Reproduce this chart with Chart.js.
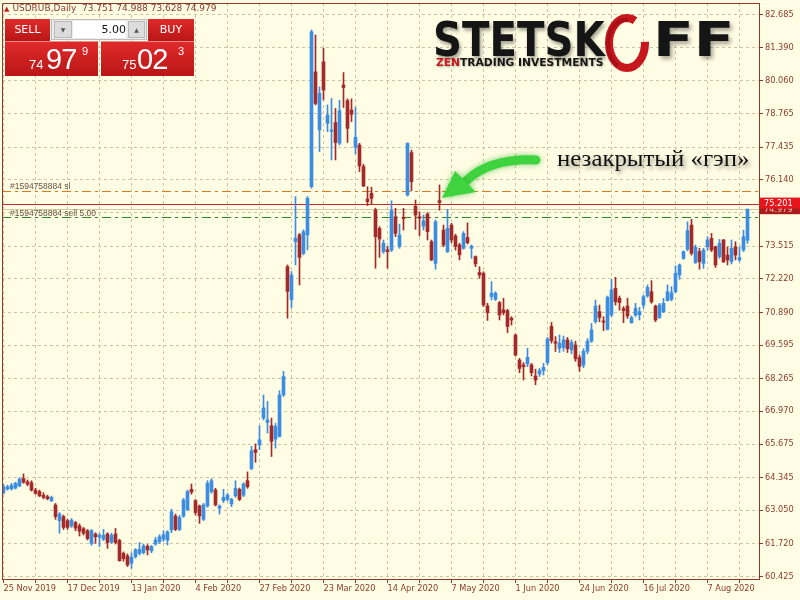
<!DOCTYPE html>
<html>
<head>
<meta charset="utf-8">
<script src="https://cdn.jsdelivr.net/npm/chart.js@4.4.0/dist/chart.umd.min.js"></script>
<style>
  html, body { margin: 0; padding: 0; background: #fffde3; }
  #wrap { position: relative; width: 800px; height: 600px; overflow: hidden; background: #fffde3; font-family: "DejaVu Sans", sans-serif; }
  #chart { position: absolute; left: 0; top: 0; }
  .abs { position: absolute; white-space: nowrap; }
  #hdr { left: 4px; top: 3px; font-size: 9px; color: #8c3a2c; }
  #hdr .tri { color: #c02020; font-size: 7px; margin-right: 3px; }
  .redbox { background: linear-gradient(#e02a2a, #b91616); color: #fff; }
  .btn { font-family: "DejaVu Sans", sans-serif; font-size: 11px; text-align: center; line-height: 21px; }
  .big { font-family: "Liberation Sans", sans-serif; font-size: 29px; color: #fff; letter-spacing: -1px; }
  .small { font-family: "Liberation Sans", sans-serif; font-size: 13px; color: #fff; }
  .sup { font-family: "Liberation Sans", sans-serif; font-size: 11px; color: #fff; }
  #logo1, #logo2 { font-family: "DejaVu Sans", sans-serif; font-weight: bold; font-size: 48px; color: #151515; line-height: 48px; transform-origin: 0 0; text-shadow: 2px 3px 4px rgba(0,0,0,0.35); }
  #zen { font-family: "DejaVu Sans", sans-serif; font-weight: bold; font-size: 10.5px; color: #151515; transform-origin: 0 0; text-shadow: 1px 1px 2px rgba(0,0,0,0.3); }
  #zen b { color: #c8161d; }
  #note { font-family: "Liberation Serif", serif; font-size: 23px; color: #111; transform-origin: 0 0; text-shadow: 2px 3px 4px rgba(0,0,0,0.4); }
</style>
</head>
<body>
<div id="wrap">
  <canvas id="chart" width="800" height="600"></canvas>

  <div id="hdr" class="abs"><span class="tri">▲</span>USDRUB,Daily&nbsp;&nbsp;73.751 74.988 73.628 74.979</div>

  <div class="abs redbox btn" style="left:5px;top:19px;width:45px;height:22px;">SELL</div>
  <div class="abs" style="left:51px;top:19px;width:96px;height:21px;background:#ececec;border:1px solid #bdbdbd;box-sizing:border-box;"></div>
  <div class="abs" style="left:54px;top:21px;width:18px;height:17px;background:#dcdcdc;border:1px solid #b8b8b8;box-sizing:border-box;font-size:6px;color:#555;text-align:center;line-height:15px;">▼</div>
  <div class="abs" style="left:73px;top:21px;width:53px;height:17px;background:#fff;font-size:11px;text-align:right;line-height:17px;color:#111;">5.00</div>
  <div class="abs" style="left:128px;top:21px;width:17px;height:17px;background:#dcdcdc;border:1px solid #b8b8b8;box-sizing:border-box;font-size:6px;color:#555;text-align:center;line-height:15px;">▲</div>
  <div class="abs redbox btn" style="left:148px;top:19px;width:46px;height:22px;">BUY</div>

  <div class="abs redbox" style="left:5px;top:41px;width:93px;height:35px;border-top:1px solid #e98a8a;box-sizing:border-box;"></div>
  <div class="abs small" style="left:29px;top:57px;">74</div>
  <div class="abs big" style="left:46px;top:43px;">97</div>
  <div class="abs sup" style="left:82px;top:45px;">9</div>

  <div class="abs redbox" style="left:101px;top:41px;width:93px;height:35px;border-top:1px solid #e98a8a;box-sizing:border-box;"></div>
  <div class="abs small" style="left:122px;top:57px;">75</div>
  <div class="abs big" style="left:137px;top:43px;">02</div>
  <div class="abs sup" style="left:178px;top:45px;">3</div>

  <div id="logo1" class="abs" style="left:433px;top:15px;">STETSK</div>
  <svg class="abs" style="left:598px;top:6px;" width="60" height="70">
    <ellipse cx="29" cy="37" rx="18" ry="25" fill="none" stroke="#c8161d" stroke-width="8"
             stroke-dasharray="122 24" stroke-dashoffset="12"/>
    <ellipse cx="27" cy="38" rx="17" ry="24" fill="none" stroke="#a80f16" stroke-width="4"
             stroke-dasharray="0 40 60 46"/>
  </svg>
  <div id="logo2" class="abs" style="left:653px;top:15px;">FF</div>
  <div id="zen" class="abs" style="left:436px;top:56px;"><b>ZEN</b>TRADING INVESTMENTS</div>

  <div id="note" class="abs" style="left:557px;top:146px;">незакрытый «гэп»</div>
</div>

<script>
const dateLabels = ['25 Nov 2019', '17 Dec 2019', '13 Jan 2020', '4 Feb 2020', '27 Feb 2020', '23 Mar 2020',
  '14 Apr 2020', '7 May 2020', '1 Jun 2020', '24 Jun 2020', '16 Jul 2020', '7 Aug 2020'];

const priceTicks = [60.425, 61.720, 63.050, 64.345, 65.675, 66.970, 68.265, 69.595, 70.890,
  72.220, 73.515, 74.845, 76.140, 77.435, 78.765, 80.060, 81.390, 82.685];

// daily candles, 25 Nov 2019 .. 20 Aug 2020
const opens = [
  63.75, 63.89, 63.90, 63.93, 64.02, 64.31, 64.18, 64.14, 63.85, 63.79,
  63.65, 63.59, 63.43, 63.26, 62.64, 62.80, 62.64, 62.43, 62.56, 62.43,
  62.32, 62.24, 61.74, 62.11, 61.98, 61.90, 62.11, 61.79, 62.11, 61.85,
  61.34, 61.24, 60.95, 61.21, 61.34, 61.37, 61.63, 61.44, 61.71, 61.81,
  61.90, 61.87, 62.27, 62.82, 62.29, 62.82, 63.08, 63.88, 63.43, 63.22,
  62.69, 63.22, 63.79, 63.85, 63.13, 63.43, 63.48, 63.30, 63.62, 63.88,
  63.65, 64.22, 64.70, 65.45, 65.64, 66.70, 66.53, 66.40, 65.87, 65.97,
  67.62, 72.70, 71.39, 73.69, 73.96, 73.23, 73.96, 75.87, 80.42, 78.12,
  80.82, 78.38, 78.06, 78.41, 77.59, 79.90, 79.28, 78.91, 77.43, 77.52,
  76.67, 75.38, 75.61, 74.95, 74.22, 73.30, 73.37, 73.36, 74.68, 73.50,
  74.66, 75.54, 77.22, 75.10, 74.68, 74.31, 74.79, 73.69, 72.83, 75.32,
  74.15, 73.30, 74.35, 73.92, 73.56, 73.43, 73.86, 73.43, 73.10, 72.47,
  72.44, 71.15, 71.52, 71.41, 71.28, 70.99, 70.96, 70.66, 69.99, 69.00,
  68.81, 68.85, 68.81, 68.37, 68.45, 68.58, 68.90, 70.33, 69.73, 69.47,
  69.50, 69.80, 69.40, 69.60, 69.10, 68.80, 69.35, 69.75, 70.52, 70.92,
  70.55, 70.22, 70.79, 71.84, 71.45, 71.04, 71.14, 70.48, 70.79, 70.79,
  71.18, 71.54, 71.71, 71.14, 70.69, 70.92, 71.35, 71.41, 71.71, 72.37,
  73.03, 73.39, 74.35, 72.86, 73.30, 72.83, 73.49, 73.82, 73.49, 73.10,
  73.76, 73.16, 72.90, 73.49, 72.97, 73.36, 73.751
];
const highs = [
  64.08, 64.05, 64.12, 64.16, 64.34, 64.49, 64.25, 64.22, 63.92, 63.85,
  63.75, 63.65, 63.61, 63.32, 62.96, 62.86, 62.70, 62.72, 62.61, 62.51,
  62.37, 62.29, 62.29, 62.16, 62.14, 62.29, 62.16, 62.14, 62.33, 61.90,
  61.40, 61.32, 61.37, 61.53, 61.77, 61.71, 61.69, 61.66, 61.98, 62.08,
  62.24, 62.24, 63.09, 62.90, 62.85, 63.52, 63.85, 64.09, 63.48, 63.26,
  63.32, 64.22, 64.30, 63.92, 63.26, 63.88, 63.72, 63.53, 64.22, 63.93,
  64.14, 64.57, 65.58, 65.68, 66.40, 67.62, 67.36, 66.70, 66.50, 67.79,
  68.55, 72.77, 72.51, 75.48, 74.02, 74.16, 75.48, 82.08, 81.88, 79.83,
  81.35, 79.11, 79.37, 78.97, 79.30, 80.39, 79.35, 79.35, 79.02, 77.59,
  76.76, 75.87, 75.85, 75.02, 74.29, 73.76, 73.50, 75.31, 75.01, 74.39,
  75.01, 77.61, 77.32, 75.34, 74.88, 74.75, 74.84, 73.76, 74.55, 75.94,
  74.35, 74.97, 74.42, 73.99, 73.63, 74.09, 74.44, 73.56, 73.13, 72.70,
  72.50, 71.25, 72.11, 71.71, 71.32, 71.45, 71.01, 70.72, 70.04, 69.07,
  68.90, 69.47, 68.87, 68.64, 68.67, 68.87, 69.90, 70.49, 69.93, 69.99,
  69.95, 69.90, 69.80, 69.75, 69.20, 69.45, 69.85, 70.45, 71.38, 71.18,
  70.72, 71.54, 72.20, 72.28, 71.54, 71.12, 71.45, 70.75, 71.25, 71.09,
  71.58, 71.98, 72.15, 71.18, 71.25, 71.45, 71.98, 71.91, 72.73, 72.81,
  73.33, 74.48, 74.58, 73.56, 73.43, 73.43, 73.89, 74.02, 73.52, 73.78,
  73.78, 73.49, 73.76, 73.69, 73.49, 74.15, 74.988
];
const lows = [
  63.69, 63.85, 63.85, 63.89, 63.98, 64.12, 64.02, 63.81, 63.68, 63.59,
  63.50, 63.46, 63.39, 62.69, 62.14, 62.29, 62.29, 62.37, 62.24, 62.03,
  62.07, 61.87, 61.66, 61.74, 61.61, 61.85, 61.54, 61.74, 61.71, 61.03,
  61.03, 60.82, 60.75, 61.15, 61.28, 61.32, 61.28, 61.37, 61.66, 61.74,
  61.82, 61.67, 62.16, 62.24, 62.24, 62.77, 63.03, 63.69, 62.86, 62.53,
  62.64, 63.17, 63.72, 63.22, 62.90, 63.35, 63.42, 63.19, 63.56, 63.43,
  63.59, 63.92, 64.66, 64.95, 65.45, 66.63, 66.11, 65.18, 65.51, 65.95,
  67.56, 70.66, 71.06, 72.77, 71.98, 73.17, 73.37, 75.81, 79.11, 77.26,
  79.31, 78.05, 76.93, 76.93, 77.52, 79.01, 77.62, 78.45, 77.17, 76.47,
  75.87, 75.12, 75.19, 72.64, 73.07, 73.23, 72.64, 73.30, 73.89, 73.43,
  74.15, 75.50, 75.71, 74.18, 73.92, 74.15, 73.76, 72.94, 72.60, 74.94,
  73.49, 73.26, 73.65, 73.36, 72.97, 73.39, 73.60, 73.03, 72.70, 72.24,
  71.12, 70.57, 71.38, 71.36, 70.59, 70.79, 70.09, 70.39, 69.16, 68.50,
  68.21, 68.74, 68.37, 68.02, 68.35, 68.41, 68.81, 69.67, 69.34, 69.30,
  69.35, 69.30, 69.25, 68.95, 68.55, 68.70, 69.25, 69.70, 70.46, 70.52,
  70.17, 70.19, 70.72, 71.18, 70.98, 70.48, 70.65, 70.46, 70.72, 70.59,
  71.05, 71.49, 71.25, 70.52, 70.65, 70.88, 71.35, 71.35, 71.67, 72.20,
  72.99, 73.33, 73.16, 72.83, 72.60, 72.63, 73.36, 73.30, 72.67, 73.03,
  72.86, 72.77, 72.81, 72.97, 72.90, 73.30, 73.628
];
const closes = [
  63.98, 63.98, 64.04, 64.12, 64.28, 64.16, 64.08, 63.85, 63.72, 63.62,
  63.56, 63.51, 63.56, 62.80, 62.90, 62.37, 62.37, 62.66, 62.34, 62.22,
  62.14, 61.93, 62.24, 62.00, 62.06, 62.06, 61.77, 62.06, 61.77, 61.05,
  61.13, 60.88, 61.19, 61.48, 61.50, 61.63, 61.48, 61.61, 61.87, 62.00,
  62.08, 62.19, 62.99, 62.29, 62.77, 63.46, 63.79, 63.77, 62.96, 62.82,
  63.26, 64.12, 64.22, 63.26, 63.22, 63.56, 63.65, 63.48, 63.92, 63.48,
  64.09, 63.98, 65.40, 65.34, 65.84, 67.10, 66.63, 65.78, 66.37, 67.62,
  68.35, 71.72, 72.37, 73.83, 73.07, 74.09, 75.41, 82.01, 79.17, 79.57,
  79.70, 78.71, 78.12, 77.62, 78.88, 79.80, 78.18, 78.74, 77.83, 76.69,
  75.90, 75.28, 75.41, 73.89, 73.80, 73.63, 73.30, 74.92, 74.02, 73.96,
  74.60, 77.59, 76.07, 74.75, 74.62, 74.52, 74.09, 72.97, 74.48, 75.24,
  73.56, 74.22, 73.76, 73.50, 73.17, 74.02, 73.65, 73.52, 72.81, 72.37,
  71.19, 70.88, 71.65, 71.65, 70.79, 70.88, 70.33, 70.59, 69.20, 68.67,
  68.74, 69.11, 68.50, 68.21, 68.58, 68.71, 69.83, 69.77, 69.67, 69.67,
  69.80, 69.45, 69.70, 69.05, 68.75, 69.35, 69.75, 70.20, 71.14, 70.69,
  70.50, 71.49, 71.78, 71.31, 71.28, 70.96, 70.75, 70.68, 71.05, 70.92,
  71.51, 71.88, 71.31, 70.59, 71.18, 71.25, 71.71, 71.67, 72.44, 72.77,
  73.30, 74.13, 73.23, 73.47, 72.90, 73.36, 73.76, 73.36, 72.77, 73.63,
  72.90, 72.97, 73.43, 73.16, 73.06, 73.89, 74.979
];

// order / price levels
const slLevel = 75.70;
const openLevel = 74.65;
const askLevel = 75.201;
const bidLevel = 74.979;

const BULL = '#3a8de0';
const BEAR = '#a32a2a';
const AXIS = '#8c3a2c';
const GRID = '#cdc4a6';

const idx = opens.map((o, i) => i);
const colors = idx.map(i => closes[i] >= opens[i] ? BULL : BEAR);

// lines under the candles
const levelLines = {
    id: 'levelLines',
    beforeDatasetsDraw(chart) {
        const { ctx, chartArea: a, scales: { y } } = chart;
        const hline = (v, color, dash) => {
            const py = Math.round(y.getPixelForValue(v)) + 0.5;
            ctx.strokeStyle = color;
            ctx.setLineDash(dash);
            ctx.beginPath();
            ctx.moveTo(a.left, py);
            ctx.lineTo(a.right, py);
            ctx.stroke();
            return py;
        };
        ctx.save();
        ctx.lineWidth = 1;
        const slY = hline(slLevel, '#de7a1e', [9, 4, 3, 4]);
        hline(bidLevel, '#d8c7a2', []);
        hline(askLevel, '#c8282c', []);
        const opY = hline(openLevel, '#2a8a2a', [9, 4, 3, 4]);
        ctx.setLineDash([]);
        ctx.fillStyle = '#6a5444';
        ctx.font = '8.5px "Liberation Sans"';
        ctx.textBaseline = 'alphabetic';
        ctx.fillText('#1594758884 sl', 10, slY - 2.5);
        ctx.fillText('#1594758884 sell 5.00', 10, opY - 2);
        ctx.restore();
    },
    afterDraw(chart) {
        const { ctx, chartArea: a, scales: { y } } = chart;
        ctx.save();
        // frame
        ctx.strokeStyle = AXIS;
        ctx.lineWidth = 1;
        ctx.beginPath();
        ctx.moveTo(a.left + 0.5, a.bottom);
        ctx.lineTo(a.left + 0.5, a.top + 0.5);
        ctx.lineTo(a.right, a.top + 0.5);
        ctx.stroke();

        // price boxes on the right scale
        ctx.font = '8.2px "DejaVu Sans"';
        ctx.textBaseline = 'middle';
        const bidY = y.getPixelForValue(bidLevel);
        ctx.fillStyle = '#a81c1c';
        ctx.fillRect(a.right + 1, bidY - 5, 40, 10);
        ctx.fillStyle = '#f2c4c4';
        ctx.fillText(bidLevel.toFixed(3), a.right + 5, bidY + 0.5);
        const askY = y.getPixelForValue(askLevel);
        ctx.fillStyle = '#e8141c';
        ctx.fillRect(a.right + 1, askY - 6, 40, 11);
        ctx.fillStyle = '#ffffff';
        ctx.fillText(askLevel.toFixed(3), a.right + 5, askY);

        // green arrow to the gap
        ctx.shadowColor = 'rgba(30,170,30,0.55)';
        ctx.shadowBlur = 6;
        ctx.strokeStyle = '#3fd43f';
        ctx.fillStyle = '#3fd43f';
        ctx.lineWidth = 9;
        ctx.lineCap = 'round';
        ctx.beginPath();
        ctx.moveTo(536, 160);
        ctx.quadraticCurveTo(490, 158, 466, 181);
        ctx.stroke();
        ctx.beginPath();
        ctx.moveTo(442, 198);
        ctx.lineTo(476, 192);
        ctx.lineTo(455, 171);
        ctx.closePath();
        ctx.fill();
        ctx.restore();
    }
};

const ctx = document.getElementById('chart').getContext('2d');
new Chart(ctx, {
    type: 'bar',
    data: {
        datasets: [
            {
                label: 'body',
                data: idx.map(i => ({ x: i, y: [opens[i], closes[i]] })),
                backgroundColor: colors,
                borderWidth: 0,
                barThickness: 3,
                minBarLength: 1,
                grouped: false
            },
            {
                label: 'wick',
                data: idx.map(i => ({ x: i, y: [lows[i], highs[i]] })),
                backgroundColor: colors,
                borderWidth: 0,
                barThickness: 1,
                grouped: false
            }
        ]
    },
    options: {
        responsive: false,
        animation: false,
        events: [],
        layout: { padding: { left: 2, top: 3, right: 0, bottom: 0 } },
        plugins: {
            legend: { display: false },
            tooltip: { enabled: false }
        },
        scales: {
            x: {
                type: 'linear',
                offset: false,
                min: -0.375,
                max: 188.875,
                afterBuildTicks: scale => {
                    const t = [];
                    for (let v = 0; v <= 184; v += 8) t.push({ value: v });
                    scale.ticks = t;
                },
                afterFit: scale => {
                    scale.height = 21;
                    scale.paddingLeft = 0;
                    scale.paddingRight = 0;
                },
                ticks: {
                    autoSkip: false,
                    maxRotation: 0,
                    align: 'start',
                    padding: 1,
                    color: AXIS,
                    font: { family: 'DejaVu Sans', size: 8.2 },
                    callback: v => (v % 16 === 0 ? dateLabels[v / 16] : '')
                },
                grid: { offset: false, color: GRID, tickColor: AXIS, tickLength: 4, tickBorderDash: [] },
                border: { color: AXIS, dash: [3, 3] }
            },
            y: {
                position: 'right',
                min: 60.326,
                max: 83.149,
                afterBuildTicks: scale => {
                    scale.ticks = priceTicks.map(v => ({ value: v }));
                },
                afterFit: scale => {
                    scale.width = 41;
                    scale.paddingTop = 0;
                    scale.paddingBottom = 0;
                },
                ticks: {
                    padding: 2,
                    color: AXIS,
                    font: { family: 'DejaVu Sans', size: 8.2 },
                    callback: v => (v === 74.845 ? '' : v.toFixed(3))
                },
                grid: { color: GRID, tickColor: AXIS, tickLength: 4, tickBorderDash: [] },
                border: { color: AXIS, dash: [3, 3] }
            }
        }
    },
    plugins: [levelLines]
});

// fit the logo and note widths to the picture
function fitWidth(id, w) {
    const el = document.getElementById(id);
    el.style.transform = 'scaleX(' + (w / el.offsetWidth) + ')';
}
fitWidth('logo1', 172);
fitWidth('logo2', 82);
fitWidth('zen', 168);
fitWidth('note', 192);
</script>
</body>
</html>
